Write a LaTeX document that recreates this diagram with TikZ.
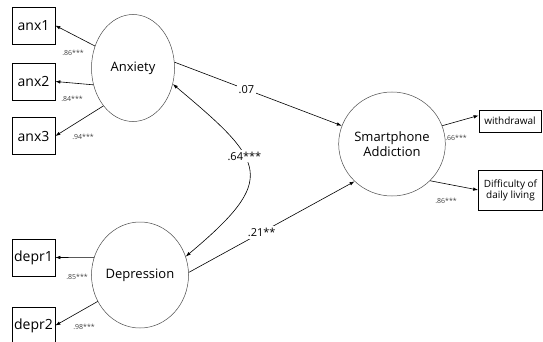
\documentclass[tikz,border=0pt]{standalone}
\usepackage{fontspec}
\setmainfont{Open Sans}
\usetikzlibrary{shapes.geometric,arrows.meta}
\tikzset{
  ind/.style={draw, line width=0.7pt, minimum width=43pt, minimum height=37pt, inner sep=1pt, font=\fontsize{14}{16}\selectfont},
  obs/.style={draw, line width=0.7pt, inner sep=1pt, font=\fontsize{10}{11}\selectfont, align=center},
  lat/.style={ellipse, draw=black!70, line width=0.5pt, inner sep=0pt, align=center, font=\fontsize{13}{15}\selectfont},
  load/.style={font=\fontsize{7}{8}\selectfont, text=black!75},
  coef/.style={fill=white, inner sep=2pt, font=\fontsize{11}{13}\selectfont},
}
\begin{document}
\begin{tikzpicture}[x=1pt, y=-1pt, >={Latex[length=5pt,width=3.5pt]}, line width=0.6pt]
	\useasboundingbox (0,0) rectangle (543,342);
	% latent variables
	\node[lat, minimum width=83pt, minimum height=107pt] (anx) at (133,68) {Anxiety};
	\node[lat, minimum width=84pt, minimum height=106pt] (dep) at (140,275) {Depression};
	\node[lat, minimum width=81pt, minimum height=104pt] (sa) at (392,144) {Smartphone\\Addiction};
	% anxiety items
	\foreach \i/\y in {1/25.5, 2/81.5, 3/136}
		\node[ind] (anx\i) at (33.5,\y) {anx\i};
	\draw[->] (anx.150) -- (anx1.east);
	\draw[->] (anx.203) -- (anx2.east);
	\draw[->] (anx.232) -- (anx3.east);
	\node[load] (l1) at (73,53) {.86***};
	\node[load] (l2) at (72,99) {.84***};
	\node[load] (l3) at (83,137) {.94***};
	% depression items
	\foreach \i/\y in {1/257.5, 2/325.5}
		\node[ind] (depr\i) at (33.5,\y) {depr\i};
	\draw[->] (dep.159) -- (depr1.east);
	\draw[->] (dep.212) -- (depr2.east);
	\node[load] (l4) at (77,277) {.85***};
	\node[load] (l5) at (84,327) {.98***};
	% addiction items
	\node[obs, minimum width=62pt, minimum height=22pt] (wd) at (510,121) {withdrawal};
	\node[obs, minimum width=64pt, minimum height=40pt] (dl) at (510.5,190) {Difficulty of\\daily living};
	\draw[->] (sa.20) -- (wd.170);
	\draw[->] (sa.-44) -- (dl.west);
	\node[load] (l6) at (456,138) {.66***};
	\node[load] (l7) at (446,201) {.86***};
	% paths
	\draw[->] (anx.8) -- node[coef, pos=.43] (c1) {.07} (sa.160);
	\draw[->] (dep.3) -- node[coef, pos=.44] (c2) {.21**} (sa.225);
	\draw[<->] (dep.22) to[out=40, in=-40, looseness=1.8] node[coef, pos=.6] (c3) {.64***} (anx.-22);
\end{tikzpicture}
\end{document}
